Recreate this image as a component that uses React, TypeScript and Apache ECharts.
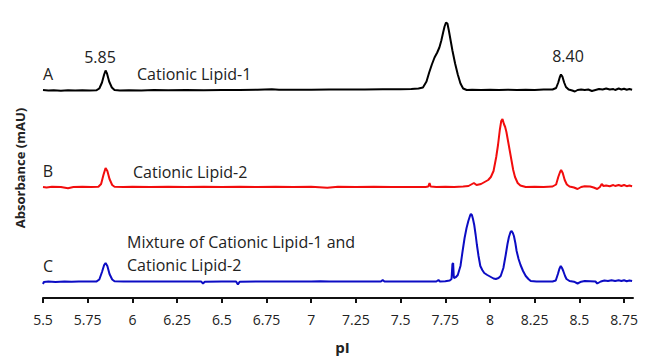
import React, { useEffect, useRef } from "react";
import * as echarts from "echarts";

// x positions (pI) of axis ticks
const tickValues = [5.5, 5.75, 6, 6.25, 6.5, 6.75, 7, 7.25, 7.5, 7.75, 8, 8.25, 8.5, 8.75];

// Trace A: Cationic Lipid-1 — [pI, absorbance above own baseline]
const traceA: number[][] = [
  [5.5, 0.5], [5.53, 0], [5.56, 0.3], [5.6, -0.3], [5.64, 0.2], [5.68, 0], [5.72, 0.3], [5.76, 0], [5.8, 0.3],
  [5.815, 2], [5.83, 8], [5.842, 16], [5.85, 20], [5.858, 17], [5.87, 9], [5.885, 3], [5.9, 0.5], [5.93, 0],
  [5.98, 0.3], [6.05, 0], [6.12, 0.4], [6.2, 0.2], [6.3, 0.5], [6.4, 0.3], [6.5, 0.6], [6.6, 0.5], [6.7, 0.7],
  [6.78, 1.2], [6.82, 0.8], [6.9, 0.7], [7.0, 0.8], [7.1, 0.9], [7.2, 1], [7.3, 1], [7.4, 1.2], [7.5, 1.2],
  [7.56, 1.5], [7.6, 2], [7.625, 3], [7.645, 9], [7.66, 18], [7.675, 26], [7.69, 33], [7.705, 38], [7.717, 43],
  [7.728, 50], [7.738, 58], [7.746, 64], [7.754, 68], [7.762, 67], [7.77, 60], [7.78, 50], [7.79, 40],
  [7.805, 27], [7.82, 16], [7.835, 7], [7.85, 2], [7.87, 0.5], [7.9, 0.8], [7.95, 0.5], [8.0, 0.7], [8.05, 0.6],
  [8.1, 0.8], [8.15, 0.5], [8.2, 0.8], [8.25, 0.6], [8.3, 0.9], [8.35, 1], [8.37, 2.5], [8.382, 8], [8.39, 13],
  [8.397, 16], [8.405, 14], [8.415, 8], [8.425, 3.5], [8.44, 1], [8.46, 0], [8.475, -1], [8.49, 0.5], [8.51, 1],
  [8.53, 0.5], [8.55, 1], [8.57, -0.5], [8.59, 0.5], [8.61, 1.5], [8.63, 1], [8.65, 2], [8.67, 1], [8.69, 1.5],
  [8.7, 0.5], [8.72, 2], [8.735, 1], [8.75, 1.8], [8.765, 0.8], [8.78, 1.5], [8.795, 0.8],
];

// Trace B: Cationic Lipid-2
const traceB: number[][] = [
  [5.5, 0], [5.52, -0.5], [5.55, 0.3], [5.6, 0], [5.64, -1.2], [5.67, 0], [5.72, 0.3], [5.77, 0], [5.81, 0.3],
  [5.825, 3], [5.838, 12], [5.85, 19], [5.86, 16], [5.872, 8], [5.887, 2], [5.9, 0.3], [5.95, 0], [6.0, 0.3],
  [6.1, 0], [6.2, 0.2], [6.3, 0], [6.4, 0.3], [6.5, 0], [6.6, 0.2], [6.7, 0], [6.8, 0.3], [6.9, 0], [7.0, 0.2],
  [7.09, -0.8], [7.15, 0.2], [7.25, 0], [7.35, 0.2], [7.45, 0], [7.55, 0.1], [7.64, 0], [7.655, 0.5],
  [7.662, 4], [7.668, 0.5], [7.7, 0], [7.75, 0.3], [7.8, 0], [7.85, 0.5], [7.88, 1], [7.9, 3], [7.91, 4],
  [7.925, 2], [7.95, 3], [7.97, 5], [7.99, 7], [8.005, 10], [8.02, 16], [8.035, 30], [8.045, 42], [8.055, 57],
  [8.063, 66], [8.07, 68], [8.078, 63], [8.085, 60], [8.092, 55], [8.1, 47], [8.11, 37], [8.12, 27], [8.13, 17],
  [8.14, 10], [8.155, 4], [8.17, 1.5], [8.2, 0], [8.25, 0.3], [8.3, 0], [8.35, 0.5], [8.37, 2.5], [8.382, 10],
  [8.392, 15], [8.398, 17], [8.407, 14], [8.418, 7], [8.43, 2.5], [8.445, 0.5], [8.47, -0.5], [8.49, -2],
  [8.51, 0], [8.53, 0.8], [8.56, 0.5], [8.58, -0.5], [8.6, -2], [8.615, 0], [8.625, 3], [8.635, 1], [8.65, 1.5],
  [8.67, 0.8], [8.69, 2], [8.7, 1], [8.72, 2], [8.735, 1], [8.75, 2], [8.765, 0.8], [8.78, 1.5], [8.795, 0.8],
];

// Trace C: Mixture
const traceC: number[][] = [
  [5.5, -2], [5.505, 0], [5.53, 0.5], [5.57, 0], [5.62, 0.5], [5.66, 0.2], [5.7, 0.6], [5.75, 0.5], [5.8, 0.6],
  [5.815, 2.5], [5.83, 10], [5.842, 17], [5.85, 19], [5.86, 16], [5.872, 8], [5.887, 2.5], [5.9, 0.8],
  [5.95, 0.5], [6.0, 0.6], [6.1, 0.4], [6.2, 0.5], [6.3, 0.4], [6.385, 0.4], [6.395, -1.5], [6.405, 0.3],
  [6.5, 0.4], [6.58, 0.4], [6.59, -2.5], [6.6, 0.3], [6.7, 0.5], [6.8, 0.4], [6.9, 0.5], [7.0, 0.6], [7.05, 0.8],
  [7.1, 0.5], [7.2, 0.4], [7.3, 0.5], [7.39, 0.5], [7.4, 2], [7.41, 0.5], [7.5, 0.4], [7.6, 0.5], [7.7, 0.5],
  [7.712, 2], [7.72, 0.5], [7.75, 0.8], [7.775, 1.5], [7.785, 3], [7.79, 18], [7.794, 19], [7.798, 4],
  [7.81, 5], [7.82, 7], [7.835, 16], [7.847, 31], [7.858, 44], [7.869, 54], [7.879, 61], [7.888, 66],
  [7.893, 68], [7.899, 67], [7.905, 63], [7.912, 57], [7.92, 47], [7.927, 37], [7.936, 26], [7.946, 16],
  [7.957, 12], [7.968, 9], [7.985, 7], [8.005, 5], [8.02, 3.5], [8.033, 3], [8.048, 4], [8.06, 6], [8.075, 14],
  [8.088, 27], [8.098, 38], [8.106, 45], [8.115, 50], [8.121, 51], [8.128, 49], [8.134, 46], [8.142, 39],
  [8.149, 31], [8.16, 23], [8.171, 17], [8.185, 11], [8.2, 6], [8.215, 3], [8.228, 1], [8.26, 0.5], [8.3, 0.6],
  [8.35, 0.5], [8.368, 1.5], [8.38, 8], [8.388, 13], [8.396, 16], [8.403, 14], [8.41, 11], [8.42, 6],
  [8.428, 3], [8.445, 1], [8.47, 0.3], [8.49, -1.5], [8.51, 0.3], [8.53, 1], [8.56, 0.8], [8.59, 0.5],
  [8.6, -1.5], [8.62, 0.5], [8.64, 1.5], [8.66, 1], [8.68, 1.8], [8.7, 1], [8.72, 1.8], [8.735, 1], [8.75, 1.8],
  [8.765, 0.8], [8.78, 1.5], [8.795, 1],
];

// vertical stacking offsets of the three traces
const traceOffsets = [207.5, 111, 16];
const traceNames = ["A", "B", "C"];
const traceColors = ["#000000", "#f20d0d", "#0c0cc4"];

const FONT = '"Open Sans", "Noto Sans", sans-serif';

export default function App() {
  const ref = useRef<HTMLDivElement>(null);

  useEffect(() => {
    if (!ref.current) return;
    const chart = echarts.init(ref.current, null, { renderer: "svg" });
    const traces = [traceA, traceB, traceC];

    const txt = (text: string, x: number, y: number, opts: any = {}) => ({
      type: "text",
      x,
      y,
      rotation: opts.rotation || 0,
      style: {
        text,
        fontSize: opts.fontSize || 16,
        fontFamily: FONT,
        fontWeight: opts.fontWeight || "normal",
        fill: "#222",
        align: opts.align || "center",
        verticalAlign: "middle",
      },
    });

    chart.setOption({
      animation: false,
      backgroundColor: "#ffffff",
      grid: { left: 43, right: 17, top: 18, bottom: 62 },
      xAxis: {
        type: "value",
        min: 5.5,
        max: 8.8,
        interval: 0.25,
        splitLine: { show: false },
        axisLine: { show: true, onZero: false, lineStyle: { color: "#111", width: 2 } },
        axisTick: {
          show: true,
          length: 5,
          customValues: tickValues,
          lineStyle: { color: "#111", width: 2 },
        },
        axisLabel: {
          customValues: tickValues,
          fontSize: 14,
          fontFamily: FONT,
          color: "#222",
          margin: 14,
        },
      },
      yAxis: {
        type: "value",
        min: 0,
        max: 280,
        show: false,
        splitLine: { show: false },
      },
      series: traces.map((t, i) => ({
        name: traceNames[i],
        type: "line",
        showSymbol: false,
        symbol: "none",
        smooth: false,
        data: t.map(([x, y]) => [x, y + traceOffsets[i]]),
        lineStyle: { color: traceColors[i], width: 2 },
        z: 3 - i,
      })),
      graphic: [
        txt("A", 48, 74),
        txt("5.85", 100, 57),
        txt("Cationic Lipid-1", 137, 74, { align: "left" }),
        txt("8.40", 568, 56),
        txt("B", 48, 171),
        txt("Cationic Lipid-2", 133, 171.5, { align: "left" }),
        txt("C", 48, 266),
        txt("Mixture of Cationic Lipid-1 and", 127, 241.5, { align: "left" }),
        txt("Cationic Lipid-2", 127, 265, { align: "left" }),
        txt("pI", 342.5, 346.5, { fontSize: 15, fontWeight: "bold" }),
        txt("Absorbance (mAU)", 20, 168, { fontSize: 13, fontWeight: "bold", rotation: Math.PI / 2 }),
      ],
    });

    return () => chart.dispose();
  }, []);

  return <div ref={ref} style={{ width: 650, height: 360, position: "absolute", left: 0, top: 0 }} />;
}
